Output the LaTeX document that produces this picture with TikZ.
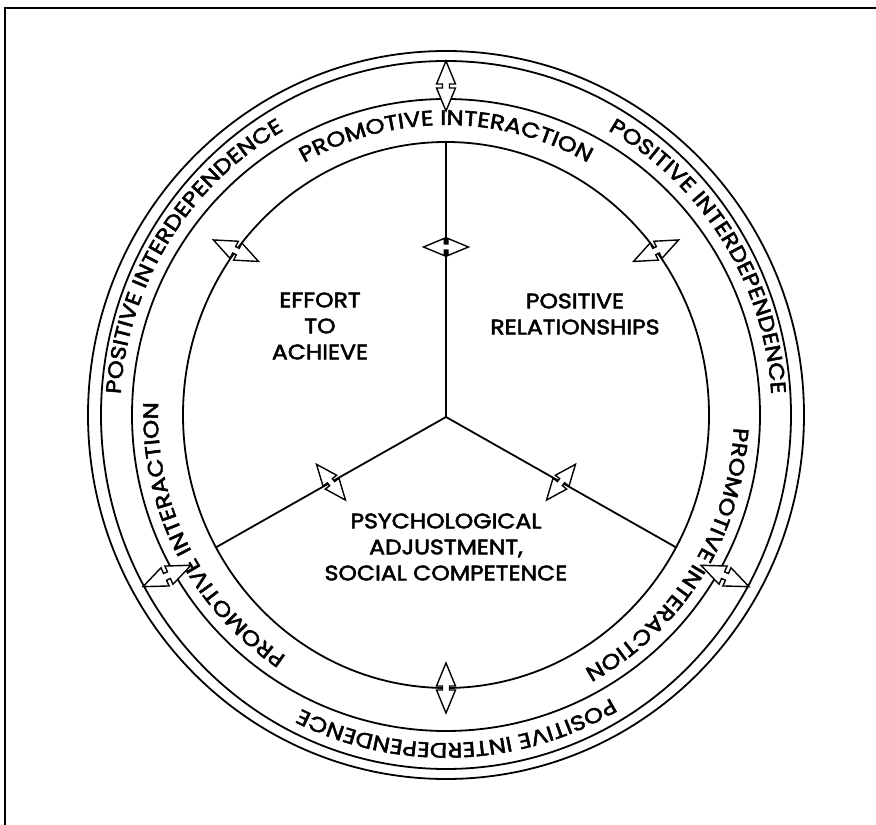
\documentclass[tikz,border=0pt]{standalone}
\usepackage{fontspec}
\setmainfont{Poppins}[FakeStretch=1.12,FakeBold=2.5]
\newfontfamily\bandfont{Poppins}[FakeStretch=1.16,FakeBold=2.5]
\usepackage{tikz}
\usetikzlibrary{calc}
\usetikzlibrary{decorations.text}
\newcommand{\ring}[2]{ \draw[line width=1.8pt] (ctr) ellipse [x radius=#1, y radius=#2];}
\newcommand{\twoway}[3]{ \begin{scope}[shift={(#1)},rotate=#2,scale=#3]
  \draw[line width=1.4pt,fill=white,line join=miter] (25,0) -- (2,9.5) -- (2,3.5) -- (-2,3.5) -- (-2,9.5) -- (-25,0) -- (-2,-9.5) -- (-2,-3.5) -- (2,-3.5) -- (2,-9.5) -- cycle;
  \end{scope}}
\newcommand{\bandtext}[4]{\path[decorate,decoration={text along path,text align=center,text={|\bandfont\fontsize{21}{21}\selectfont|#4}}] (ctr) ++(#1+60:#2 and #3) arc[start angle=#1+60,delta angle=-120,x radius=#2,y radius=#3];}
\newcommand{\labfont}{\fontsize{21}{26}\selectfont}

\begin{document}
\begin{tikzpicture}[x=1pt,y=1pt]
\useasboundingbox (0,0) rectangle (876,825);
% frame, top and left only
\draw[line width=1.3pt] (5,0) -- (5,817) -- (876,817);
\coordinate (ctr) at (446,410);
\coordinate (hub) at (446,408);
% rings
\ring{358}{364}
\ring{345}{354}
\ring{314}{316}
\ring{263}{273}
% spokes
\path (ctr) ++(90:263 and 273) coordinate (topend);
\path (ctr) ++(209:263 and 273) coordinate (leftend);
\path (ctr) ++(-29:263 and 273) coordinate (rightend);
\draw[line width=1.8pt] (hub) -- (topend);
\draw[line width=1.8pt] (hub) -- (leftend);
\draw[line width=1.8pt] (hub) -- (rightend);
% band texts
\bandtext{90}{288}{290}{PROMOTIVE INTERACTION}
\bandtext{207}{288}{290}{PROMOTIVE INTERACTION}
\bandtext{328}{288}{290}{PROMOTIVE INTERACTION}
\bandtext{148}{326}{328}{POSITIVE INTERDEPENDENCE}
\bandtext{32}{326}{328}{POSITIVE INTERDEPENDENCE}
\bandtext{272}{326}{328}{POSITIVE INTERDEPENDENCE}
% outer arrows
\coordinate (o1) at (446,739);
\coordinate (o2) at (167,249);
\coordinate (o3) at (725,249);
\twoway{o1}{90}{1}
\twoway{o2}{24}{1.05}
\twoway{o3}{-24}{1.05}
% arrows on the sector circle
\path (ctr) ++(143:263 and 273) coordinate (s1);
\path (ctr) ++(37:263 and 273) coordinate (s2);
\path (ctr) ++(270:263 and 273) coordinate (s3);
\twoway{s1}{-25.5}{1}
\twoway{s2}{25.5}{1}
\twoway{s3}{90}{1}
% arrows on the spokes
\coordinate (p1) at (446,578);
\path (hub) -- coordinate[pos=0.5] (p2) (leftend);
\path (hub) -- coordinate[pos=0.5] (p3) (rightend);
\twoway{p1}{0}{0.9}
\twoway{p2}{129}{0.92}
\twoway{p3}{51}{0.92}
% labels
\node[align=center,font=\labfont] (effort) at (320,499) {EFFORT\\TO\\ACHIEVE};
\node[align=center,font=\labfont] (relate) at (575,511) {POSITIVE\\RELATIONSHIPS};
\node[align=center,font=\labfont] (adjust) at (446,278) {PSYCHOLOGICAL\\ADJUSTMENT,\\SOCIAL COMPETENCE};
\end{tikzpicture}
\end{document}
